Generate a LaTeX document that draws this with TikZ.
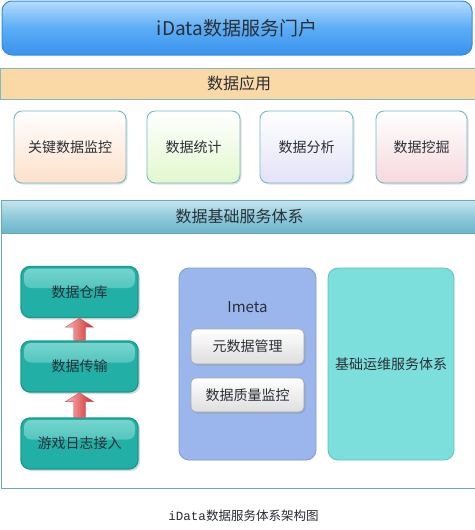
\documentclass[tikz,border=0pt]{standalone}
\usepackage{fontspec}
\setmainfont{Noto Sans CJK SC}
\newfontfamily\capfont{Liberation Mono}
\newfontfamily\capcjk{Noto Sans CJK SC}
\usetikzlibrary{shadows,calc}
\definecolor{txt}{HTML}{2A2F36}
\definecolor{titletop}{HTML}{B4DCFC}
\definecolor{titlemid}{HTML}{5BADF6}
\definecolor{titlebot}{HTML}{3A92EC}
\definecolor{titleborder}{HTML}{3A8BDD}
\definecolor{appfill}{HTML}{FBD9A6}
\definecolor{appborder}{HTML}{7FB9C2}
\definecolor{boxborder}{HTML}{72B9CA}
\definecolor{peach}{HTML}{FDE0C9}
\definecolor{lgreen}{HTML}{E2F8CE}
\definecolor{lav}{HTML}{E3E2F8}
\definecolor{lpink}{HTML}{F6D8DC}
\definecolor{headtop}{HTML}{C8E7F0}
\definecolor{headmid}{HTML}{8FCADB}
\definecolor{headbot}{HTML}{6BB5CA}
\definecolor{frame}{HTML}{6AA8B8}
\definecolor{tealmain}{HTML}{22AFA6}
\definecolor{teallight}{HTML}{78D6CF}
\definecolor{tealdark}{HTML}{179A91}
\definecolor{imetafill}{HTML}{9BB6EC}
\definecolor{imetaborder}{HTML}{7C9AD4}
\definecolor{rightfill}{HTML}{7DDFDC}
\definecolor{rightborder}{HTML}{5BC0BF}
\definecolor{arrowlight}{HTML}{FFB8B8}
\definecolor{arrowmid}{HTML}{F25A5A}
\definecolor{arrowdark}{HTML}{C82828}
\tikzset{
  appbox/.style={draw=boxborder, line width=0.9pt, rounded corners=8pt,
    minimum height=72pt, text=txt, font=\fontsize{14}{14}\selectfont,
    drop shadow={shadow xshift=1.5pt, shadow yshift=-1.5pt, opacity=0.25}},
  tealbox/.style={draw=tealdark, line width=1.3pt, fill=tealmain, rounded corners=9pt,
    minimum width=117pt, minimum height=51pt, text=txt, font=\fontsize{14}{14}\selectfont,
    drop shadow={shadow xshift=2pt, shadow yshift=-2pt, opacity=0.3},
    path picture={\shade[top color=teallight, bottom color=tealmain, rounded corners=7pt]
      ($(path picture bounding box.north west)+(3pt,-2pt)$) rectangle
      ($(path picture bounding box.east)+(-3pt,4pt)$);}},
  subbox/.style={draw=black!35, line width=0.6pt, rounded corners=5pt,
    top color=white, bottom color=black!13, minimum width=113pt,
    text=txt, font=\fontsize{14}{14}\selectfont,
    drop shadow={shadow xshift=1.5pt, shadow yshift=-1.5pt, opacity=0.3}},
  bigbox/.style={rounded corners=10pt, line width=0.8pt, minimum height=192pt,
    text=txt, font=\fontsize{14}{14}\selectfont},
  redarrow/.style={draw=arrowdark!80, line width=0.4pt, left color=arrowlight,
    middle color=arrowmid, right color=arrowdark}
}
\begin{document}
\begin{tikzpicture}[x=1pt,y=-1pt]
\useasboundingbox (0,0) rectangle (474,530);
% title bar
\node[draw=titleborder, line width=1pt, rounded corners=10pt,
  top color=titletop, bottom color=titlebot, middle color=titlemid,
  minimum width=470pt, minimum height=54pt, text=txt,
  font=\fontsize{19}{19}\selectfont] (portal) at (237,28) {iData数据服务门户};
% app bar
\node[draw=appborder, line width=1pt, fill=appfill, minimum width=478pt,
  minimum height=31pt, text=txt, font=\fontsize{16}{16}\selectfont]
  (apps) at (239,83.5) {数据应用};
% four app boxes
\node[appbox, top color=white, bottom color=peach, minimum width=112pt] (a1) at (70,147) {关键数据监控};
\node[appbox, top color=white, bottom color=lgreen, minimum width=93pt] (a2) at (193.5,147) {数据统计};
\node[appbox, top color=white, bottom color=lav, minimum width=93pt] (a3) at (306.5,147) {数据分析};
\node[appbox, top color=white, bottom color=lpink, minimum width=91pt] (a4) at (421.5,147) {数据挖掘};
% basic services frame
\draw[frame, line width=1pt] (1,200) rectangle (478,488);
\node[draw=frame, line width=1pt, top color=headtop, bottom color=headbot,
  middle color=headmid, minimum width=477pt, minimum height=33pt, text=txt,
  font=\fontsize{16}{16}\selectfont] (base) at (239.5,216.5) {数据基础服务体系};
% left stack
\node[tealbox] (b1) at (79.5,292) {数据仓库};
\node[tealbox] (b2) at (79.5,366.5) {数据传输};
\node[tealbox] (b3) at (79.5,443.5) {游戏日志接入};
\foreach \a/\b in {b2/b1, b3/b2} {
  \shade[redarrow] let \p1=(\a.north), \p2=(\b.south) in
    (\x1-6pt,\y1) -- (\x1-6pt,\y2-9pt) -- (\x1-14pt,\y2-9pt) -- (\x2,\y2)
    -- (\x1+14pt,\y2-9pt) -- (\x1+6pt,\y2-9pt) -- (\x1+6pt,\y1) -- cycle;
}
% Imeta
\node[bigbox, draw=imetaborder, fill=imetafill, minimum width=137pt] (imeta) at (247.5,364) {};
\node[text=txt, font=\fontsize{15}{15}\selectfont] (imetalabel) at (247.5,307) {Imeta};
\node[subbox, minimum height=35pt] (s1) at (247.5,346.5) {元数据管理};
\node[subbox, minimum height=34pt] (s2) at (247.5,395) {数据质量监控};
% right
\node[bigbox, draw=rightborder, fill=rightfill, minimum width=126pt] (ops) at (391,364) {基础运维服务体系};
% caption
\node[text=txt!90!black] (cap) at (243.5,516) {{\capfont\fontsize{12.5}{12.5}\selectfont iData}{\capcjk\fontsize{12.5}{12.5}\selectfont 数据服务体系架构图}};
\end{tikzpicture}
\end{document}
